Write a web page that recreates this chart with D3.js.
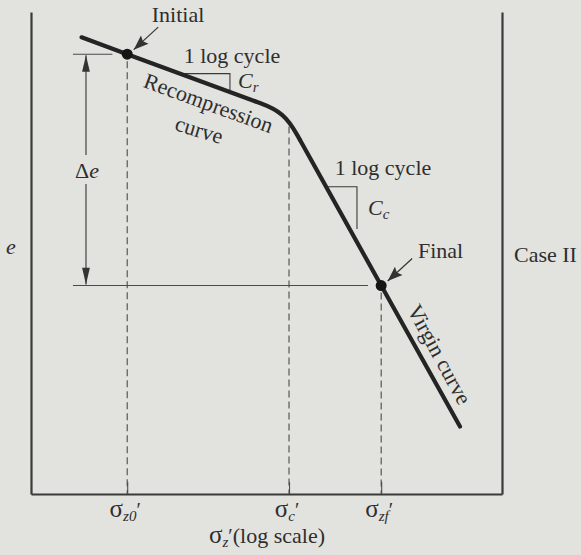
<!DOCTYPE html>
<html><head><meta charset="utf-8">
<script src="https://cdn.jsdelivr.net/npm/d3@7"></script>
<style>
html,body{margin:0;padding:0;background:#e2e2de;}
svg{display:block;}
text{font-family:"Liberation Serif","Times New Roman",serif;fill:#2e2e2e;}
</style></head><body>
<svg id="chart" width="581" height="555"></svg>
<script>
// Effective stress (log scale) at the three marked states: initial, preconsolidation, final
const stressTicks = [41, 440, 1700];
const tickSubscripts = ["z0", "c", "zf"];

// Void ratio e against effective stress along the compression curve
const recompressionBranch = [[21, 1.158], [41, 1.13], [267, 1.052]];
const kneeBranch = [[267, 1.052], [411, 1.034], [516, 0.988]];
const virginBranch = [[516, 0.988], [1700, 0.746], [5400, 0.512]];

const initialState = [41, 1.13];
const finalState = [1700, 0.746];

// Upper ends (void ratio) of the dashed drop lines at each stress tick
const guideTops = [1.13, 1.01, 0.746];

// Slope triangles: stress at the two corners, void ratio of the top leg and of the lower corner
const crTriangle = { from: 89, to: 185, eTop: 1.0977, eBottom: 1.0671 };
const ccTriangle = { from: 760, to: 1192, eTop: 0.910, eBottom: 0.840 };

// Δe dimension line
const deltaEStress = 22.4;
const deltaELevels = [1.13, 0.746];
const deltaELeaderFrom = [18.5, 18.5];
const deltaELeaderTo = [33, 1400];

const svg = d3.select("#chart");
const x = d3.scaleLog().domain([10, 10000]).range([31, 502]);
const y = d3.scaleLinear().domain([0.4, 1.2]).range([494, 12]);

const ink = "#242424";
const guideInk = "#4a4a4a";

// arrowhead markers
const defs = svg.append("defs");
defs.append("marker").attr("id", "dimHead")
  .attr("markerUnits", "userSpaceOnUse").attr("markerWidth", 20).attr("markerHeight", 20)
  .attr("viewBox", "-16 -6 18 12").attr("refX", 0).attr("refY", 0).attr("orient", "auto")
  .append("path").attr("d", "M0,0L-15,-3.5L-15,3.5Z").attr("fill", "#333");
defs.append("marker").attr("id", "pointHead")
  .attr("markerUnits", "userSpaceOnUse").attr("markerWidth", 20).attr("markerHeight", 20)
  .attr("viewBox", "-14 -6 16 12").attr("refX", 0).attr("refY", 0).attr("orient", "auto")
  .append("path").attr("d", "M0,0L-12,-4.5L-10,0L-12,4.5Z").attr("fill", "#333");

// frame: stress axis (short upward ticks), e axis and right border
svg.append("g").attr("transform", `translate(0,${y(0.4)})`)
  .call(d3.axisBottom(x).tickValues(stressTicks).tickFormat("").tickSizeInner(-12).tickSizeOuter(0))
  .call(g => g.select(".domain").attr("stroke", "#3a3a3a").attr("stroke-width", 2.2))
  .call(g => g.selectAll(".tick line").attr("stroke", guideInk).attr("stroke-width", 1.1));
svg.append("g").attr("transform", `translate(${x(10)},0)`)
  .call(d3.axisLeft(y).tickValues([]).tickSizeOuter(0))
  .call(g => g.select(".domain").attr("stroke", "#3a3a3a").attr("stroke-width", 2.2));
svg.append("g").attr("transform", `translate(${x(10000)},0)`)
  .call(d3.axisRight(y).tickValues([]).tickSizeOuter(0))
  .call(g => g.select(".domain").attr("stroke", "#3a3a3a").attr("stroke-width", 2.2));

// dashed drop lines
svg.append("g").selectAll("line").data(stressTicks).join("line")
  .attr("x1", d => x(d)).attr("x2", d => x(d))
  .attr("y1", (d, i) => y(guideTops[i]) + (i === 1 ? 0 : 7)).attr("y2", y(0.4))
  .attr("stroke", guideInk).attr("stroke-width", 1.1).attr("stroke-dasharray", "7,4");

// Δe leaders
svg.append("g").selectAll("line").data(deltaELevels).join("line")
  .attr("x1", (d, i) => x(deltaELeaderFrom[i])).attr("x2", (d, i) => x(deltaELeaderTo[i]))
  .attr("y1", d => y(d)).attr("y2", d => y(d))
  .attr("stroke", guideInk).attr("stroke-width", 1.1);

// Δe dimension arrows with a gap for the label
const dx = x(deltaEStress);
const labelY = 171;
svg.append("line").attr("x1", dx).attr("x2", dx).attr("y1", labelY - 16).attr("y2", y(deltaELevels[0]) + 1)
  .attr("stroke", "#333").attr("stroke-width", 1.1).attr("marker-end", "url(#dimHead)");
svg.append("line").attr("x1", dx).attr("x2", dx).attr("y1", labelY + 13).attr("y2", y(deltaELevels[1]) - 1)
  .attr("stroke", "#333").attr("stroke-width", 1.1).attr("marker-end", "url(#dimHead)");
const de = svg.append("text").attr("x", dx + 1).attr("y", labelY + 7).attr("text-anchor", "middle")
  .attr("font-size", 22);
de.append("tspan").text("Δ");
de.append("tspan").attr("font-style", "italic").text("e");

// slope triangles
function triangle(t) {
  return d3.line()([[x(t.from), y(t.eTop)], [x(t.to), y(t.eTop)], [x(t.to), y(t.eBottom)]]);
}
svg.append("path").attr("d", triangle(crTriangle)).attr("fill", "none").attr("stroke", "#3a3a3a").attr("stroke-width", 1.1);
svg.append("path").attr("d", triangle(ccTriangle)).attr("fill", "none").attr("stroke", "#3a3a3a").attr("stroke-width", 1.1);

// compression curve
const lin = d3.line().x(d => x(d[0])).y(d => y(d[1]));
const smooth = d3.line().x(d => x(d[0])).y(d => y(d[1])).curve(d3.curveBasis);
[[recompressionBranch, lin], [kneeBranch, smooth], [virginBranch, lin]].forEach(([pts, gen]) => {
  svg.append("path").attr("d", gen(pts)).attr("fill", "none").attr("stroke", ink)
    .attr("stroke-width", 4.2).attr("stroke-linecap", "round").attr("stroke-linejoin", "round");
});

// state markers and pointers
[initialState, finalState].forEach(p => {
  const cx = x(p[0]), cy = y(p[1]);
  svg.append("circle").attr("cx", cx).attr("cy", cy).attr("r", 5.5).attr("fill", "#151515");
  svg.append("line").attr("x1", cx + 31).attr("y1", cy - 27).attr("x2", cx + 6.5).attr("y2", cy - 4.5)
    .attr("stroke", "#333").attr("stroke-width", 1.2).attr("marker-end", "url(#pointHead)");
});

const fs = 22;
function label(txt, px, py, anchor, rot) {
  const t = svg.append("text").attr("font-size", fs).attr("text-anchor", anchor || "start")
    .attr("transform", `translate(${px},${py})` + (rot ? ` rotate(${rot})` : ""));
  t.text(txt);
  return t;
}
label("Initial", 178, 22, "middle");
label("1 log cycle", 232, 63, "middle");
label("Recompression", 206, 110, "middle", 20);
label("curve", 197, 137, "middle", 17);
label("1 log cycle", 383, 175, "middle");
label("Final", 418, 258);
label("Virgin curve", 433, 358, "middle", 61.5);
label("Case II", 514, 262);
label("e", 6, 254).attr("font-style", "italic");

function coef(px, py, sub) {
  const t = svg.append("text").attr("x", px).attr("y", py).attr("font-size", fs).attr("font-style", "italic");
  t.append("tspan").text("C");
  t.append("tspan").attr("font-size", 15).attr("dy", 4).text(sub);
}
coef(238, 88, "r");
coef(368, 215, "c");

// stress tick labels
function sigma(px, py, sub) {
  const t = svg.append("text").attr("x", px).attr("y", py).attr("font-size", fs).attr("text-anchor", "middle");
  t.append("tspan").attr("font-size", 25).text("σ");
  t.append("tspan").attr("font-size", 15).attr("font-style", "italic").attr("dy", 4).text(sub);
  t.append("tspan").attr("font-size", 20).attr("dy", -4).text("′");
  return t;
}
stressTicks.forEach((s, i) => sigma(x(s) - 2, 517, tickSubscripts[i]));
sigma(267, 543, "z").append("tspan").text("(log scale)");
</script>
</body></html>
